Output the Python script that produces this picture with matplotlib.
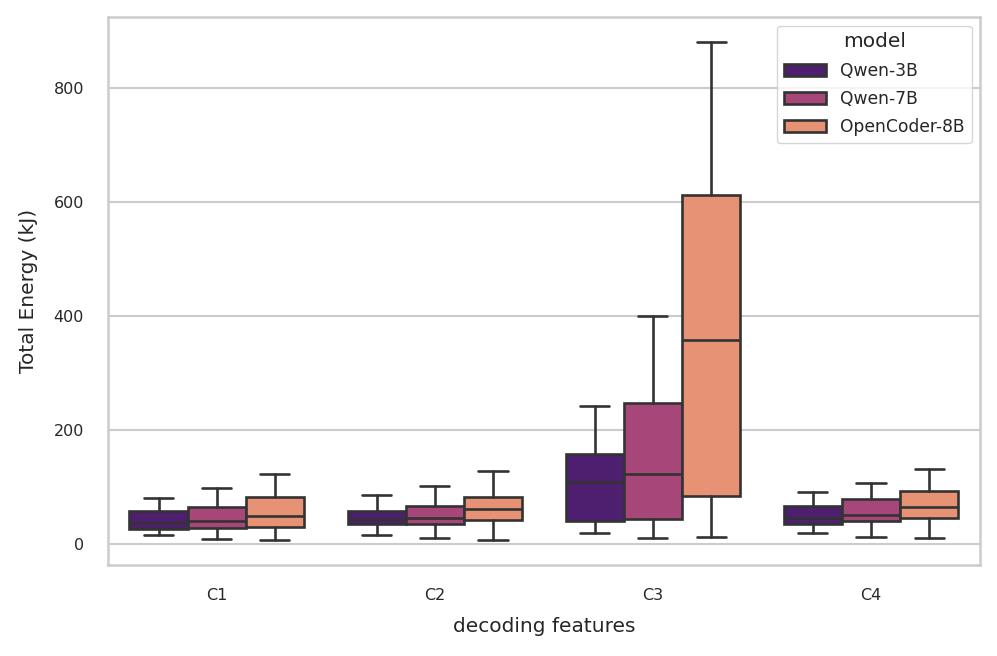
import matplotlib
matplotlib.use("Agg")
import matplotlib.pyplot as plt
import seaborn as sns
from matplotlib.patches import Patch

features = ["C1", "C2", "C3", "C4"]
models = ["Qwen-3B", "Qwen-7B", "OpenCoder-8B"]

# box stats, one list per model, order C1..C4
whislo = {
    "Qwen-3B": [16, 16, 19, 19],
    "Qwen-7B": [9, 10, 10, 11.5],
    "OpenCoder-8B": [7, 6.5, 11, 10],
}
q1 = {
    "Qwen-3B": [26, 34.5, 40, 35],
    "Qwen-7B": [28, 34, 43, 40],
    "OpenCoder-8B": [30, 41.5, 84, 45],
}
med = {
    "Qwen-3B": [37, 44, 107.5, 45],
    "Qwen-7B": [39, 45, 121.5, 50],
    "OpenCoder-8B": [49, 61, 357, 65],
}
q3 = {
    "Qwen-3B": [57, 57, 158, 67],
    "Qwen-7B": [65, 67, 246.5, 78],
    "OpenCoder-8B": [82, 82, 611, 92],
}
whishi = {
    "Qwen-3B": [81, 86, 242, 91],
    "Qwen-7B": [98, 102, 399, 106],
    "OpenCoder-8B": [123, 127, 881, 130.5],
}

sns.set_theme(style="whitegrid")
plt.rcParams["font.family"] = ["DejaVu Sans"]

palette = [sns.desaturate(c, 0.75) for c in sns.color_palette("magma", len(models))]
line_col = "#333333"
lw = 1.9

fig = plt.figure(figsize=(9.97, 6.56), dpi=100)
ax = fig.add_axes([0.108, 0.139, 0.875, 0.835])

w = 0.8 / len(models)
for j, m in enumerate(models):
    stats = []
    for i in range(len(features)):
        stats.append({
            "whislo": whislo[m][i], "q1": q1[m][i], "med": med[m][i],
            "q3": q3[m][i], "whishi": whishi[m][i], "fliers": [],
        })
    pos = [i + (j - 1) * w for i in range(len(features))]
    ax.bxp(stats, positions=pos, widths=w, patch_artist=True, showfliers=False,
           manage_ticks=False,
           boxprops=dict(facecolor=palette[j], edgecolor=line_col, linewidth=lw),
           medianprops=dict(color=line_col, linewidth=lw),
           whiskerprops=dict(color=line_col, linewidth=lw),
           capprops=dict(color=line_col, linewidth=lw))

ax.set_xlim(-0.5, len(features) - 0.5)
ax.set_xticks(range(len(features)))
ax.set_xticklabels(features)
ax.set_ylim(-37, 924)
ax.set_yticks([0, 200, 400, 600, 800])
ax.grid(axis="x", visible=False)
ax.grid(axis="y", color="#cccccc", linewidth=1.5)
for s in ax.spines.values():
    s.set_color("#cccccc")
    s.set_linewidth(1.8)
ax.tick_params(labelsize=11.5, colors="#262626", length=0, pad=17)

ax.set_xlabel("decoding features", fontsize=14.5, color="#262626", labelpad=10)
ax.set_ylabel("Total Energy (kJ)", fontsize=14.5, color="#262626", labelpad=11)

handles = [Patch(facecolor=palette[j], edgecolor=line_col, linewidth=lw, label=m)
           for j, m in enumerate(models)]
leg = ax.legend(handles=handles, title="model", loc="upper right",
                fontsize=12.3, title_fontsize=14.5, frameon=True,
                handlelength=2.5, labelspacing=0.6)
leg.get_frame().set_edgecolor("#cccccc")

fig.savefig("out.png", dpi=100)
